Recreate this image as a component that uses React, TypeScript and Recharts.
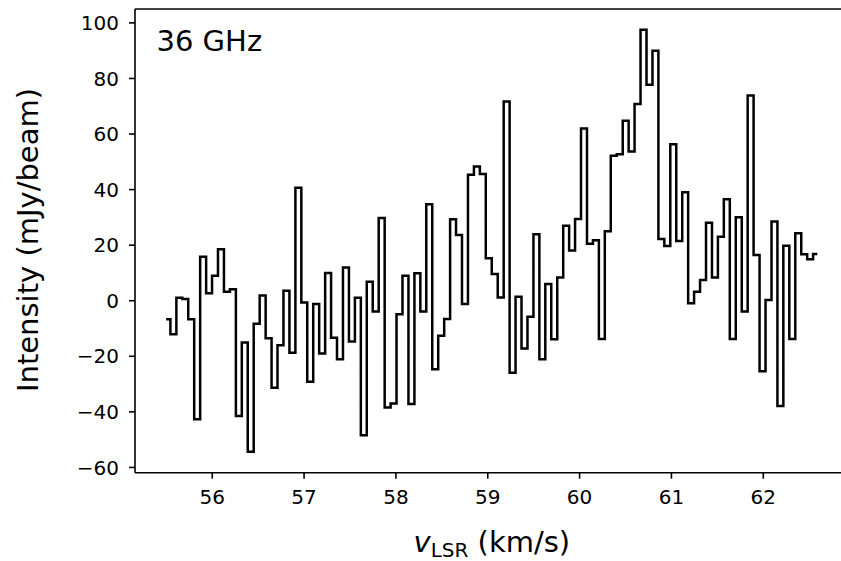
import React from "react";
import { LineChart, Line, XAxis, YAxis, Label, ReferenceLine } from "recharts";

// channel velocities (km/s)
const velocities = [
  55.512, 55.577, 55.642, 55.706, 55.771, 55.836, 55.901, 55.966, 56.03, 56.095,
  56.16, 56.225, 56.29, 56.354, 56.419, 56.484, 56.549, 56.614, 56.678, 56.743,
  56.808, 56.873, 56.938, 57.002, 57.067, 57.132, 57.197, 57.262, 57.326, 57.391,
  57.456, 57.521, 57.586, 57.65, 57.715, 57.78, 57.845, 57.91, 57.974, 58.039,
  58.104, 58.169, 58.234, 58.298, 58.363, 58.428, 58.493, 58.558, 58.622, 58.687,
  58.752, 58.817, 58.882, 58.946, 59.011, 59.076, 59.141, 59.206, 59.27, 59.335,
  59.4, 59.465, 59.53, 59.594, 59.659, 59.724, 59.789, 59.854, 59.918, 59.983,
  60.048, 60.113, 60.178, 60.242, 60.307, 60.372, 60.437, 60.502, 60.566, 60.631,
  60.696, 60.761, 60.826, 60.89, 60.955, 61.02, 61.085, 61.15, 61.214, 61.279,
  61.344, 61.409, 61.474, 61.538, 61.603, 61.668, 61.733, 61.798, 61.862, 61.927,
  61.992, 62.057, 62.122, 62.186, 62.251, 62.316, 62.381, 62.446, 62.51, 62.575,
];

// intensity per channel (mJy/beam)
const intensity = [
  -6.7, -12.1, 1.1, 0.6, -6.7, -42.7, 15.8, 2.7, 9.0, 18.5,
  3.2, 4.1, -41.5, -15.0, -54.4, -8.3, 1.9, -13.5, -31.3, -16.0,
  3.6, -18.7, 40.7, -0.6, -29.2, -1.2, -19.0, 10.0, -13.3, -21.1,
  12.0, -14.7, 1.1, -48.4, 6.8, -3.9, 29.8, -38.4, -37.0, -4.9,
  9.0, -37.2, 9.9, -3.9, 34.7, -24.7, -12.6, -6.6, 29.3, 23.7,
  -1.2, 45.3, 48.3, 45.6, 15.3, 9.6, 1.2, 71.7, -25.9, 1.4,
  -17.2, -5.8, 23.9, -21.1, 6.0, -13.9, 8.4, 27.0, 18.1, 29.4,
  62.0, 20.5, 21.8, -13.8, 25.0, 52.2, 52.7, 64.8, 53.7, 70.8,
  97.5, 77.7, 90.0, 22.2, 19.7, 56.3, 21.5, 39.0, -0.9, 3.2,
  7.5, 28.1, 8.4, 23.0, 36.5, -13.8, 30.0, -3.9, 73.9, 16.5,
  -25.4, 0.3, 28.5, -37.9, 19.8, -13.8, 24.3, 16.7, 14.9, 16.8,
];

const xTicks = [56, 57, 58, 59, 60, 61, 62];
const yTicks = [-60, -40, -20, 0, 20, 40, 60, 80, 100];

const data = velocities.map((v, i) => ({ v, y: intensity[i] }));

const FONT = "DejaVu Sans";
const xDomain = [55.159, 62.929];
const yDomain = [-61.9, 105.0];

const minus = (t: number) => String(t).replace("-", "\u2212");

export default function App() {
  return (
    <div
      style={{
        position: "absolute",
        left: 0,
        top: 0,
        width: 841,
        height: 561,
        overflow: "hidden",
        background: "#fff",
      }}
    >
      <LineChart
        width={860}
        height={561}
        data={data}
        margin={{ top: 9, right: 11.4, bottom: 0, left: 0 }}
      >
        <XAxis
          dataKey="v"
          type="number"
          domain={xDomain}
          allowDataOverflow
          ticks={xTicks}
          height={88.3}
          tickSize={6}
          tickMargin={11}
          tick={{ fill: "#000", fontSize: 20, fontFamily: FONT }}
          axisLine={{ stroke: "#000", strokeWidth: 1.6 }}
          tickLine={{ stroke: "#000", strokeWidth: 1.6 }}
        >
          <Label
            content={() => (
              <text
                x={491.8}
                y={552}
                textAnchor="middle"
                fontFamily={FONT}
                fontSize={29}
                fill="#000"
              >
                <tspan fontStyle="italic">v</tspan>
                <tspan fontSize={20} dy={5}>LSR</tspan>
                <tspan dy={-5}> (km/s)</tspan>
              </text>
            )}
          />
        </XAxis>
        <YAxis
          type="number"
          domain={yDomain}
          allowDataOverflow
          ticks={yTicks}
          width={135}
          tickSize={6}
          tickMargin={10}
          tickFormatter={minus}
          tick={{ fill: "#000", fontSize: 20, fontFamily: FONT }}
          axisLine={{ stroke: "#000", strokeWidth: 1.6 }}
          tickLine={{ stroke: "#000", strokeWidth: 1.6 }}
        >
          <Label
            content={() => (
              <text
                x={38}
                y={240}
                transform="rotate(-90 38 240)"
                textAnchor="middle"
                fontFamily={FONT}
                fontSize={29}
                fill="#000"
              >
                Intensity (mJy/beam)
              </text>
            )}
          />
        </YAxis>
        {/* top spine */}
        <ReferenceLine
          y={yDomain[1]}
          stroke="#000"
          strokeWidth={1.6}
          ifOverflow="visible"
        />
        <Line
          dataKey="y"
          type="step"
          stroke="#000"
          strokeWidth={2.5}
          strokeLinecap="square"
          strokeLinejoin="miter"
          dot={false}
          activeDot={false}
          isAnimationActive={false}
        />
        <text x={156.5} y={50.7} fontFamily={FONT} fontSize={29} fill="#000">
          36 GHz
        </text>
      </LineChart>
    </div>
  );
}
